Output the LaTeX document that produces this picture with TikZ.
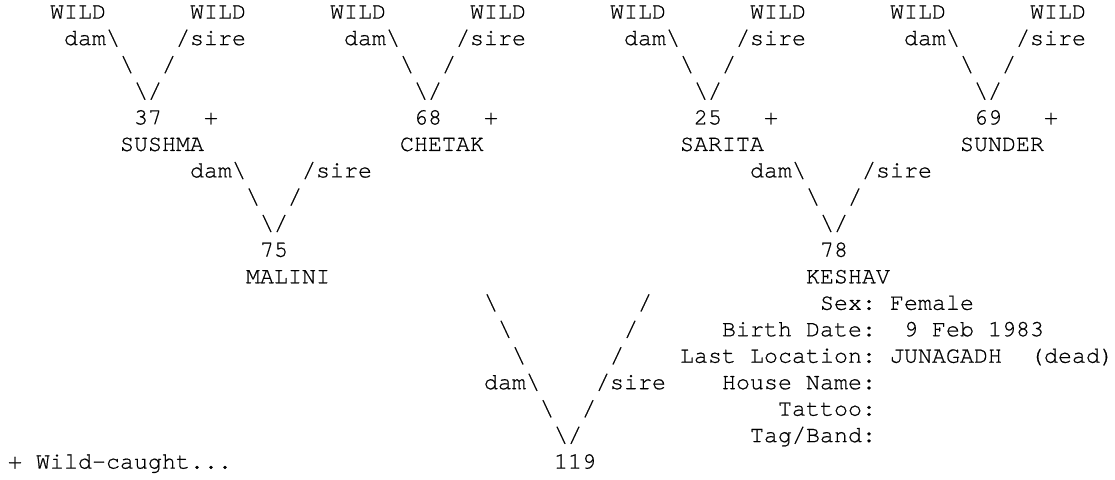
\documentclass[tikz,border=0pt]{standalone}
\usepackage{fontspec}
\setmonofont{TeX Gyre Cursor}[FakeBold=0.6]
\newcommand{\bsl}{\textbackslash}

\begin{document}
\begin{tikzpicture}[x=10.5pt, y=-19.8525pt,
  txt/.style={font=\fontsize{17.5}{19.85}\selectfont\ttfamily, anchor=base west,
              inner sep=0pt, outer sep=0pt}]
\useasboundingbox (-0.5714,0.2973) rectangle (79.0714,18.3935);
% grandparents: wild-caught founders
\foreach \c [count=\i] in {3,13,23,33,43,53,63,73}
  \node[txt] (wild\i) at (\c,1) {WILD};
\foreach \c [count=\i] in {0,20,40,60} {
  \node[txt] (gdam\i) at (\c+4,2) {dam\bsl};
  \node[txt] (gsire\i) at (\c+12,2) {/sire};
  \node[txt] (gl\i) at (\c+8,3) {\bsl};
  \node[txt] (gr\i) at (\c+11,3) {/};
  \node[txt] (gv\i) at (\c+9,4) {\bsl/};
  \node[txt] (gplus\i) at (\c+14,5) {+};
}
\node[txt] (n37) at (9,5) {37};
\node[txt] (n68) at (29,5) {68};
\node[txt] (n25) at (49,5) {25};
\node[txt] (n69) at (69,5) {69};
\node[txt] (sushma) at (8,6) {SUSHMA};
\node[txt] (chetak) at (28,6) {CHETAK};
\node[txt] (sarita) at (48,6) {SARITA};
\node[txt] (sunder) at (68,6) {SUNDER};
% parents
\foreach \c [count=\i] in {0,40} {
  \node[txt] (pdam\i) at (\c+13,7) {dam\bsl};
  \node[txt] (psire\i) at (\c+21,7) {/sire};
  \node[txt] (pl\i) at (\c+17,8) {\bsl};
  \node[txt] (pr\i) at (\c+20,8) {/};
  \node[txt] (pv\i) at (\c+18,9) {\bsl/};
}
\node[txt] (n75) at (18,10) {75};
\node[txt] (n78) at (58,10) {78};
\node[txt] (malini) at (17,11) {MALINI};
\node[txt] (keshav) at (57,11) {KESHAV};
% studbook animal
\foreach \r [count=\i] in {12,13,14} {
  \node[txt] (sl\i) at (33+\i,\r) {\bsl};
  \node[txt] (sr\i) at (46-\i,\r) {/};
}
\node[txt] (sdam) at (34,15) {dam\bsl};
\node[txt] (ssire) at (42,15) {/sire};
\node[txt] (sl4) at (38,16) {\bsl};
\node[txt] (sr4) at (41,16) {/};
\node[txt] (sv) at (39,17) {\bsl/};
\node[txt] (n119) at (39,18) {119};
% record details
\node[txt] (sex) at (58,12) {Sex:};
\node[txt] (sexval) at (63,12) {Female};
\node[txt] (birth) at (51,13) {Birth Date:};
\node[txt] (birthval) at (64,13) {9 Feb 1983};
\node[txt] (loc) at (48,14) {Last Location:};
\node[txt] (locval) at (63,14) {JUNAGADH};
\node[txt] (dead) at (73,14) {(dead)};
\node[txt] (house) at (51,15) {House Name:};
\node[txt] (tattoo) at (55,16) {Tattoo:};
\node[txt] (tag) at (53,17) {Tag/Band:};
\node[txt] (legend) at (0,18) {+ Wild-caught...};
\end{tikzpicture}
\end{document}
